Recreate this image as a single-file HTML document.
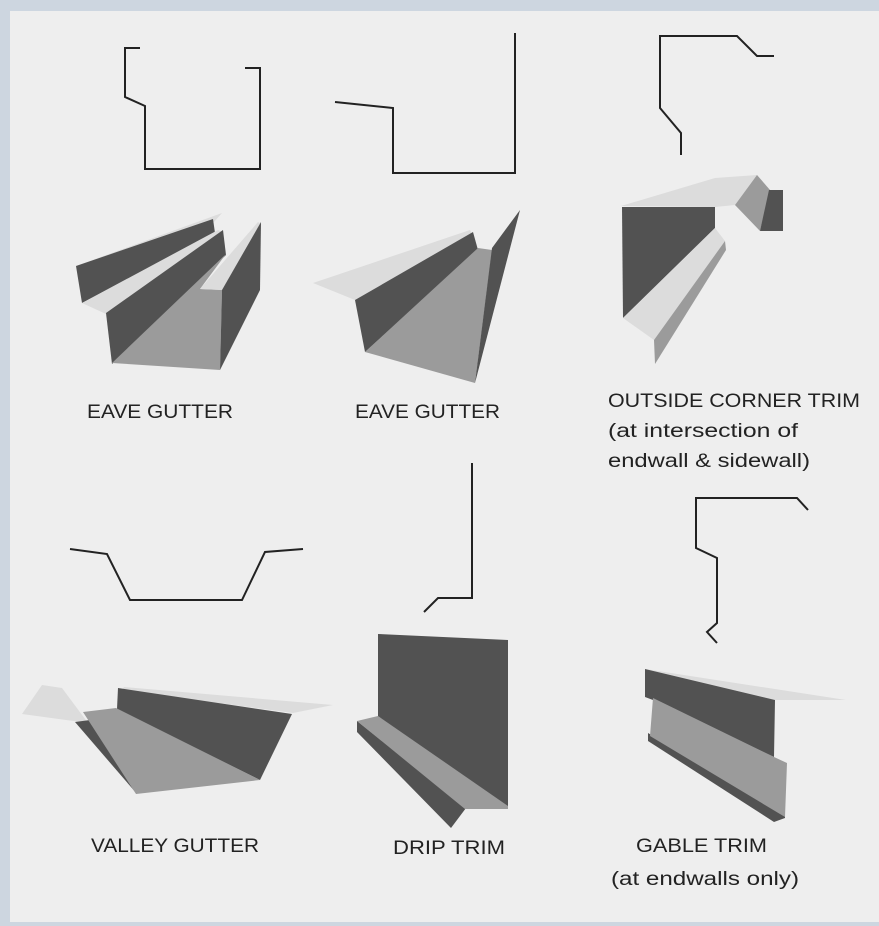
<!DOCTYPE html>
<html><head><meta charset="utf-8"><style>
html,body{margin:0;padding:0;width:879px;height:926px;overflow:hidden;background:#cdd6e0}
svg{display:block}
text{font-family:"Liberation Sans",sans-serif;font-size:19px;fill:#222}
</style></head><body>
<svg width="879" height="926" viewBox="0 0 879 926" xmlns="http://www.w3.org/2000/svg">
<rect x="0" y="0" width="879" height="926" fill="#cdd6e0"/>
<rect x="10" y="11" width="869" height="911" fill="#eeeeee"/>
<g fill="none" stroke="#222" stroke-width="2">
<path d="M140,48 L125,48 L125,97 L145,106 L145,169 L260,169 L260,68 L245,68"/>
<path d="M335,102 L393,108 L393,173 L515,173 L515,33"/>
<path d="M681,155 L681,133 L660,108 L660,36 L737,36 L757,56 L774,56"/>
<path d="M70,549 L107,554 L130,600 L242,600 L265,552 L303,549"/>
<path d="M472,463 L472,598 L438,598 L424,612"/>
<path d="M808,510 L797,498 L696,498 L696,548 L717,558 L717,623 L707,632 L717,643"/>
</g>
<!-- eave gutter 1 -->
<polygon fill="#dcdcdc" points="76,266 222,213 214,222 100,262"/>
<polygon fill="#525252" points="76,266 213,219 215,233 82,303"/>
<polygon fill="#dcdcdc" points="82,303 218,230 223,232 106,314"/>
<polygon fill="#525252" points="106,313 223,230 226,255 112,364"/>
<polygon fill="#9b9b9b" points="112,363 226,254 200,289 222,290 220,370"/>
<polygon fill="#dcdcdc" points="200,289 258,222 261,224 222,290"/>
<polygon fill="#525252" points="222,290 261,222 260,290 220,370"/>
<!-- eave gutter 2 -->
<polygon fill="#dcdcdc" points="313,283 470,230 475,240 355,300"/>
<polygon fill="#525252" points="355,300 473,232 478,250 365,352"/>
<polygon fill="#9b9b9b" points="365,352 478,248 492,250 475,383"/>
<polygon fill="#525252" points="492,248 520,210 475,383"/>
<!-- outside corner -->
<polygon fill="#dcdcdc" points="621,206 715,178 757,175 735,205 715,207"/>
<polygon fill="#9b9b9b" points="735,205 757,175 770,190 760,231"/>
<polygon fill="#525252" points="769,190 783,190 783,231 760,231"/>
<polygon fill="#525252" points="622,207 715,207 715,228 623,318"/>
<polygon fill="#dcdcdc" points="623,318 715,228 725,241 654,340"/>
<polygon fill="#9b9b9b" points="654,340 725,241 726,250 655,364"/>
<!-- valley -->
<polygon fill="#dcdcdc" points="22,714 42,685 62,688 88,723"/>
<polygon fill="#dcdcdc" points="124,687 333,705 293,713 122,690"/>
<polygon fill="#525252" points="118,688 292,714 260,780 117,709"/>
<polygon fill="#525252" points="75,722 90,720 137,794"/>
<polygon fill="#9b9b9b" points="83,712 116,708 260,780 136,794"/>
<!-- drip -->
<polygon fill="#525252" points="378,634 508,640 508,808 378,718"/>
<polygon fill="#525252" points="357,721 466,808 451,828 357,732"/>
<polygon fill="#9b9b9b" points="357,721 378,716 508,806 508,809 465,809"/>
<!-- gable -->
<polygon fill="#dcdcdc" points="645,669 846,700 775,700"/>
<polygon fill="#525252" points="645,669 775,700 774,757 653,700 645,697"/>
<polygon fill="#525252" points="648,733 785,815 785,818 774,822 648,741"/>
<polygon fill="#9b9b9b" points="653,698 774,757 787,763 785,817 650,736"/>
<!-- labels -->
<text x="87" y="418" textLength="146" lengthAdjust="spacingAndGlyphs">EAVE GUTTER</text>
<text x="355" y="418" textLength="145" lengthAdjust="spacingAndGlyphs">EAVE GUTTER</text>
<text x="608" y="407" textLength="252" lengthAdjust="spacingAndGlyphs">OUTSIDE CORNER TRIM</text>
<text x="608" y="437" textLength="190" lengthAdjust="spacingAndGlyphs">(at intersection of</text>
<text x="608" y="467" textLength="202" lengthAdjust="spacingAndGlyphs">endwall &amp; sidewall)</text>
<text x="91" y="852" textLength="168" lengthAdjust="spacingAndGlyphs">VALLEY GUTTER</text>
<text x="393" y="854" textLength="112" lengthAdjust="spacingAndGlyphs">DRIP TRIM</text>
<text x="636" y="852" textLength="131" lengthAdjust="spacingAndGlyphs">GABLE TRIM</text>
<text x="611" y="885" textLength="188" lengthAdjust="spacingAndGlyphs">(at endwalls only)</text>
</svg>
</body></html>
